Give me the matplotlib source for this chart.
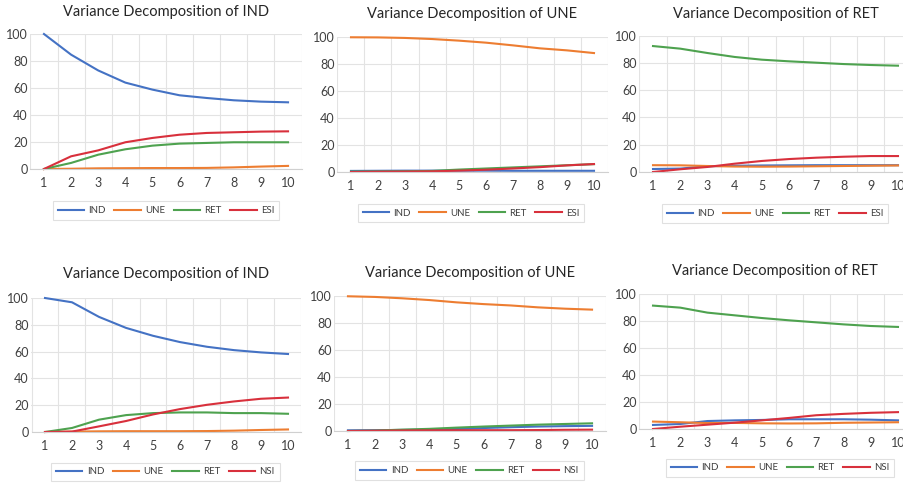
import matplotlib
matplotlib.use("Agg")
import matplotlib.pyplot as plt
from matplotlib.ticker import MultipleLocator

plt.rcParams['font.family'] = ['Lato', 'DejaVu Sans']

W, H = 904, 483

periods = [1, 2, 3, 4, 5, 6, 7, 8, 9, 10]
colors = ['#4472C4', '#ED7D31', '#4EA24F', '#D8303C']

# top row: ESI models
top_ind = {
    'IND': [100, 84.7, 73.0, 64.0, 58.8, 54.6, 52.6, 50.9, 49.9, 49.4],
    'UNE': [0, 0.2, 0.5, 0.6, 0.7, 0.7, 0.8, 1.2, 1.8, 2.3],
    'RET': [0, 4.5, 10.6, 14.6, 17.3, 18.8, 19.3, 19.8, 19.8, 19.8],
    'ESI': [0, 9.4, 13.8, 19.8, 23.0, 25.4, 26.7, 27.2, 27.7, 27.9],
}
top_une = {
    'IND': [0.8, 0.9, 1.0, 1.0, 1.0, 1.0, 0.9, 0.9, 0.9, 0.9],
    'UNE': [99.8, 99.7, 99.3, 98.5, 97.3, 95.8, 93.8, 91.6, 90.1, 88.1],
    'RET': [0.3, 0.4, 0.5, 0.8, 1.8, 2.6, 3.4, 4.2, 5.0, 5.8],
    'ESI': [0, 0.2, 0.3, 0.5, 1.0, 1.7, 2.6, 3.6, 4.9, 5.9],
}
top_ret = {
    'IND': [2.2, 2.5, 4.2, 4.6, 4.8, 4.9, 5.0, 5.0, 5.0, 5.0],
    'UNE': [5.0, 4.9, 4.4, 4.0, 3.9, 4.0, 4.2, 4.4, 4.6, 4.8],
    'RET': [92.4, 90.5, 87.3, 84.4, 82.4, 81.2, 80.2, 79.2, 78.5, 78.0],
    'ESI': [0, 2.0, 3.7, 6.1, 8.1, 9.5, 10.5, 11.2, 11.7, 11.7],
}
# bottom row: NSI models
bot_ind = {
    'IND': [100, 96.8, 85.9, 77.7, 71.8, 67.1, 63.6, 61.1, 59.4, 58.2],
    'UNE': [0, 0.3, 0.5, 0.6, 0.6, 0.6, 0.7, 1.0, 1.5, 1.9],
    'RET': [0, 3.0, 9.2, 12.6, 14.1, 14.6, 14.6, 14.1, 14.1, 13.6],
    'NSI': [0, 0.3, 4.2, 8.2, 13.1, 17.1, 20.3, 22.8, 24.8, 25.7],
}
bot_une = {
    'IND': [0.5, 0.6, 0.8, 1.0, 1.5, 2.2, 2.8, 3.3, 3.6, 3.8],
    'UNE': [99.8, 99.3, 98.3, 97.0, 95.3, 94.0, 93.0, 91.6, 90.6, 89.9],
    'RET': [0, 0.3, 1.0, 1.6, 2.5, 3.3, 4.0, 4.7, 5.2, 5.7],
    'NSI': [0, 0.2, 0.4, 0.5, 0.6, 0.6, 0.6, 0.7, 0.9, 1.0],
}
bot_ret = {
    'IND': [3.0, 3.7, 5.9, 6.4, 6.7, 7.2, 7.2, 7.2, 6.9, 6.4],
    'UNE': [5.5, 5.0, 4.4, 4.5, 4.2, 4.1, 4.2, 4.6, 4.8, 5.0],
    'RET': [91.4, 89.9, 86.2, 84.2, 82.2, 80.5, 79.0, 77.5, 76.3, 75.6],
    'NSI': [0, 1.7, 3.2, 4.7, 6.4, 8.2, 10.2, 11.2, 12.0, 12.5],
}

titles = ['Variance Decomposition of IND', 'Variance Decomposition of UNE',
          'Variance Decomposition of RET'] * 2
panels = [top_ind, top_une, top_ret, bot_ind, bot_une, bot_ret]

# plot areas in pixels: left, right, top, bottom
boxes = [
    (30.4, 301.6, 34, 169),
    (337.5, 607.5, 37, 172),
    (639.4, 911.6, 35.7, 172),
    (31.5, 301.5, 298, 432),
    (334.4, 605.6, 296, 431),
    (639.4, 911.6, 294, 429),
]
title_pos = [(166, 12), (472, 14), (776, 14), (166, 274), (470, 273), (775, 271)]
legend_pos = [(166, 210.5), (471, 213), (775, 213.5), (165.5, 472), (469.5, 470.5), (780, 468)]

fig = plt.figure(figsize=(W / 100, H / 100), dpi=100)

for i, data in enumerate(panels):
    l, r, t, b = boxes[i]
    ax = fig.add_axes([l / W, 1 - b / H, (r - l) / W, (b - t) / H])
    for (name, vals), c in zip(data.items(), colors):
        ax.plot(periods, vals, color=c, lw=1.5, label=name, clip_on=False)
    ax.set_xlim(0.5, 10.5)
    ax.set_ylim(0, 100)
    ax.set_xticks(periods)
    ax.xaxis.set_minor_locator(MultipleLocator(1, offset=0.5))
    ax.set_yticks(range(0, 101, 20))
    ax.grid(True, which='minor', axis='x', color='#E3E3E3', lw=0.8)
    ax.grid(True, which='major', axis='y', color='#E3E3E3', lw=0.8)
    ax.tick_params(which='both', length=0, labelsize=9, colors='#404040')
    ax.tick_params(axis='x', pad=6)
    ax.tick_params(axis='y', pad=2)
    for s in ['top', 'right', 'left']:
        ax.spines[s].set_visible(False)
    ax.spines['bottom'].set_color('#D0D0D0')
    ax.set_axisbelow(True)

    tx, ty = title_pos[i]
    fig.text(tx / W, 1 - ty / H, titles[i], ha='center', va='center',
             fontsize=10.5, color='#262626')

    lx, ly = legend_pos[i]
    leg = ax.legend(loc='center', bbox_to_anchor=(lx / W, 1 - ly / H),
                    bbox_transform=fig.transFigure, ncol=4, fontsize=7,
                    frameon=True, fancybox=False, handlelength=2.7,
                    columnspacing=0.9, handletextpad=0.45, borderpad=0.5,
                    borderaxespad=0)
    leg.get_frame().set_edgecolor('#D9D9D9')
    leg.get_frame().set_linewidth(0.8)
    for txt in leg.get_texts():
        txt.set_color('#404040')

fig.savefig('out.png', dpi=100, facecolor='white')
